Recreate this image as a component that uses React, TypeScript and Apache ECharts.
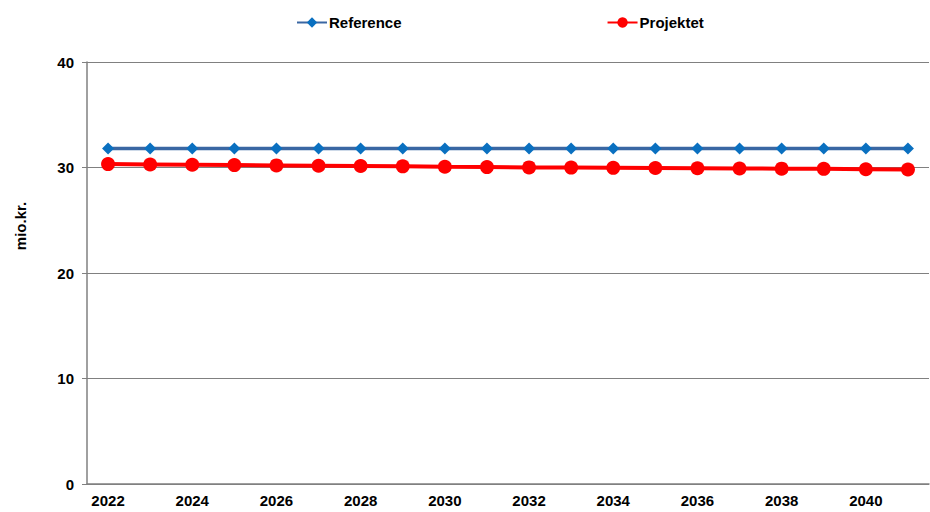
import React, { useEffect, useRef } from "react";
import * as echarts from "echarts";

const years = ["2022","2023","2024","2025","2026","2027","2028","2029","2030","2031","2032","2033","2034","2035","2036","2037","2038","2039","2040","2041"];
const referenceValues = [31.8,31.8,31.8,31.8,31.8,31.8,31.8,31.8,31.8,31.8,31.8,31.8,31.8,31.8,31.8,31.8,31.8,31.8,31.8,31.8];
const projektetValues = [30.32,30.29,30.26,30.23,30.2,30.17,30.14,30.11,30.07,30.04,30.01,29.99,29.97,29.95,29.93,29.91,29.89,29.87,29.84,29.81];
const yTicks = { min: 0, max: 40, interval: 10 };
const yAxisName = "mio.kr.";

export default function App() {
  const ref = useRef<HTMLDivElement>(null);
  useEffect(() => {
    if (!ref.current) return;
    const chart = echarts.init(ref.current, undefined, { renderer: "svg" });
    const font = "Liberation Sans, Arial, sans-serif";
    chart.setOption({
      animation: false,
      backgroundColor: "#ffffff",
      textStyle: { fontFamily: font },
      legend: {
        top: 10,
        left: 291,
        itemGap: 205,
        itemWidth: 30,
        itemHeight: 13,
        textStyle: { fontFamily: font, fontWeight: "bold", fontSize: 15, color: "#000", padding: [0, 0, 0, -3] },
        data: ["Reference", "Projektet"],
      },
      graphic: [
        {
          type: "text",
          x: 20,
          y: 226,
          rotation: Math.PI / 2,
          style: {
            text: yAxisName,
            fontFamily: font,
            fontWeight: "bold",
            fontSize: 15,
            fill: "#000",
            align: "center",
            verticalAlign: "middle",
          },
        },
      ],
      grid: { left: 87, right: 1, top: 62, bottom: 28, containLabel: false },
      xAxis: {
        type: "category",
        data: years,
        boundaryGap: true,
        axisLine: { lineStyle: { color: "#808080", width: 1.5 } },
        axisTick: { show: false },
        axisLabel: {
          interval: 1,
          fontFamily: font,
          fontWeight: "bold",
          fontSize: 15,
          color: "#000",
          margin: 9,
        },
      },
      yAxis: {
        type: "value",
        min: yTicks.min,
        max: yTicks.max,
        interval: yTicks.interval,
        axisLine: { show: true, lineStyle: { color: "#808080", width: 1.5 } },
        axisTick: { show: true, length: 5, lineStyle: { color: "#808080" } },
        axisLabel: {
          fontFamily: font,
          fontWeight: "bold",
          fontSize: 15,
          color: "#000",
          margin: 13,
        },
        splitLine: { show: true, lineStyle: { color: "#808080", width: 1 } },
      },
      series: [
        {
          name: "Reference",
          type: "line",
          data: referenceValues,
          symbol: "diamond",
          symbolSize: 12,
          lineStyle: { color: "#3a67a3", width: 3.5 },
          itemStyle: { color: "#0a70c0" },
        },
        {
          name: "Projektet",
          type: "line",
          data: projektetValues,
          symbol: "circle",
          symbolSize: 14,
          lineStyle: { color: "#ff0000", width: 4 },
          itemStyle: { color: "#ff0000" },
        },
      ],
    });
    return () => chart.dispose();
  }, []);
  return (
    <div
      ref={ref}
      style={{ position: "fixed", left: 0, top: 0, width: 930, height: 512 }}
    />
  );
}
